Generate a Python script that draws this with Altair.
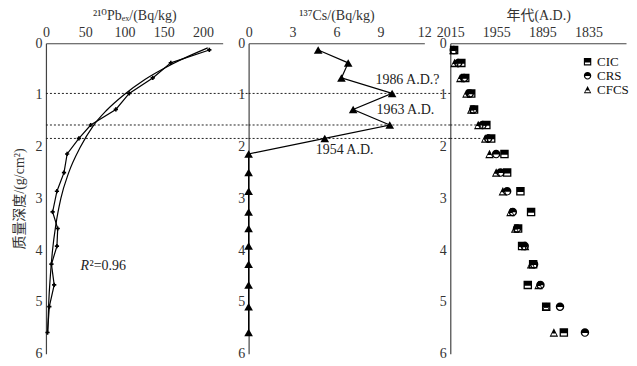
import altair as alt
import pandas as pd

# ---------------- data ----------------
depth = [0.13, 0.38, 0.67, 0.97, 1.28, 1.58, 1.84, 2.14, 2.50, 2.86, 3.26, 3.58, 3.92, 4.27, 4.67, 5.09, 5.59]
pb_measured = [208, 159, 136, 106, 89, 57, 42, 27, 23, 14, 8.5, 15, 14, 7, 10.5, 4.3, 2]

fit_depth = [0.09, 0.4, 0.7, 1.0, 1.3, 1.6, 2.0, 2.5, 3.0, 3.5, 4.0, 4.5, 5.0, 5.6]
fit_pb = [206, 161, 126, 99, 77, 60, 44, 29, 19, 12.7, 8.4, 5.6, 3.6, 2.2]

cs = [4.75, 6.8, 6.34, 9.8, 7.14, 9.64, 5.2, 0, 0, 0, 0, 0, 0, 0, 0, 0, 0]

cic = [2010, 2000.6, 1995.5, 1987.7, 1984, 1968, 1961.7, 1944.4, 1940.9, 1923.6, 1909.7, 1926.6, 1921.4, 1907, 1914, 1890, 1867]
crs = [2010.5, 2004.6, 1997, 1989.6, 1985, 1973, 1965.6, 1955.2, 1949.6, 1940.9, 1933.5, 1928, 1918, 1905.8, 1897.5, 1872, 1839.5]
cfcs = [2011, 2009.4, 2002, 1994, 1987.7, 1978.6, 1969.5, 1963.9, 1955.2, 1946.5, 1936.6, 1930.5, 1917.5, 1909.7, 1900, 1890.2, 1880]
methods = ["CIC", "CRS", "CFCS"]

dating_depth = [0.97, 1.58, 1.84]
dating_end_year = [2015, 1981, 1974]

ann_text = ["1986 A.D.?", "1963 A.D.", "1954 A.D."]
ann_cs = [8.66, 8.73, 4.58]
ann_depth = [0.71, 1.29, 2.07]

r2_pb = [44]
r2_depth = [4.3]

pb_ticks = [0, 50, 100, 150, 200]
cs_ticks = [0, 3, 6, 9, 12]
year_ticks = [2015, 1955, 1895, 1835]
depth_ticks = [0, 1, 2, 3, 4, 5, 6]

# ---------------- layout / style ----------------
W1, W2, W3, H = 177, 176, 176, 311
GAP1 = 26
FONT = "Liberation Serif, Noto Sans CJK SC, DejaVu Serif"
INK = "#000000"
AXC = "#444444"

SQ = "M-1,-1H1V1H-1Z M-0.7,0.2V0.7H0.7V0.2Z"
CI = "M-1,0A1,1 0 1,1 1,0A1,1 0 1,1 -1,0Z M-0.65,0.1A0.65,0.65 0 0,0 0.65,0.1Z"
TR = "M0,-1L1,1H-1Z M-0.42,0.25L-0.62,0.7H0.62L0.42,0.25Z"

# ---------------- frames ----------------
df_pb = pd.DataFrame({"depth": depth, "pb": pb_measured})
df_fit = pd.DataFrame({"depth": fit_depth, "pb": fit_pb})
df_cs = pd.DataFrame({"depth": depth, "cs": cs})
df_age = pd.DataFrame({
    "depth": depth * 3,
    "year": cic + crs + cfcs,
    "method": [m for m in methods for _ in depth],
})
df_dating = pd.DataFrame({"depth": dating_depth, "start": [2015] * 3, "end": dating_end_year})
df_ann = pd.DataFrame({"depth": ann_depth, "cs": ann_cs, "label": ann_text})
df_r2 = pd.DataFrame({"depth": r2_depth, "pb": r2_pb})

yscale = alt.Scale(domain=[0, 6], reverse=True, nice=False, zero=False)


def yenc(title=None):
    ax = alt.Axis(values=depth_ticks, format="d", title=title, labelPadding=4,
                  titlePadding=8, ticks=False, grid=False)
    return alt.Y("depth:Q", scale=yscale, axis=ax)


def xaxis(title, vals, fmt):
    return alt.Axis(orient="top", values=vals, format=fmt, title=title, labelPadding=4,
                    titlePadding=3, ticks=False, grid=False, labelFlush=False)


# Panel 1: 210Pb
ax1 = xaxis("²¹⁰Pbₑₓ/(Bq/kg)", pb_ticks, "d")
xs1 = alt.Scale(domain=[0, 225], nice=False)
Y1 = yenc("质量深度/(g/cm²)")

fit = alt.Chart(df_fit).mark_line(color=INK, strokeWidth=1.2, interpolate="monotone").encode(
    x=alt.X("pb:Q", scale=xs1, axis=ax1), y=Y1, order="depth:Q")
meas = alt.Chart(df_pb).mark_line(color=INK, strokeWidth=1.2).encode(
    x=alt.X("pb:Q", scale=xs1, axis=ax1), y=Y1, order="depth:Q")
meas_pts = alt.Chart(df_pb).mark_point(shape="cross", filled=True, color=INK, size=18, opacity=1).encode(
    x=alt.X("pb:Q", scale=xs1, axis=ax1), y=Y1)
rules1 = alt.Chart(df_dating).mark_rule(color="#222", strokeDash=[2, 2], strokeWidth=1).encode(
    y=Y1, x=alt.value(0), x2=alt.value(W1 + GAP1))
r_txt = alt.Chart(df_r2).mark_text(text="R", font=FONT, fontSize=14, fontStyle="italic",
                                   align="left", baseline="middle", color="#222").encode(
    x=alt.X("pb:Q", scale=xs1, axis=ax1), y=Y1)
r_rest = alt.Chart(df_r2).mark_text(text="²=0.96", font=FONT, fontSize=14, dx=9,
                                    align="left", baseline="middle", color="#222").encode(
    x=alt.X("pb:Q", scale=xs1, axis=ax1), y=Y1)
panel1 = alt.layer(rules1, fit, meas, meas_pts, r_txt, r_rest).properties(width=W1, height=H)

# Panel 2: 137Cs
ax2 = xaxis("¹³⁷Cs/(Bq/kg)", cs_ticks, "d")
xs2 = alt.Scale(domain=[0, 12], nice=False)
Y2 = yenc(None)
rules2 = alt.Chart(df_dating).mark_rule(color="#222", strokeDash=[2, 2], strokeWidth=1).encode(
    y=Y2, x=alt.value(0), x2=alt.value(W2 + GAP1))
cs_line = alt.Chart(df_cs).mark_line(color=INK, strokeWidth=1.2).encode(
    x=alt.X("cs:Q", scale=xs2, axis=ax2), y=Y2, order="depth:Q")
cs_pts = alt.Chart(df_cs).mark_point(shape="triangle-up", filled=True, color=INK, size=75, opacity=1).encode(
    x=alt.X("cs:Q", scale=xs2, axis=ax2), y=Y2)
ann = alt.Chart(df_ann).mark_text(font=FONT, fontSize=14, align="left", baseline="middle", color="#222").encode(
    x=alt.X("cs:Q", scale=xs2, axis=ax2), y=Y2, text="label:N")
panel2 = alt.layer(rules2, cs_line, cs_pts, ann).properties(width=W2, height=H)

# Panel 3: ages
ax3 = xaxis("年代(A.D.)", year_ticks, "d")
xs3 = alt.Scale(domain=[1786, 2015], reverse=True, nice=False, zero=False)
Y3 = yenc(None)
rules3 = alt.Chart(df_dating).mark_rule(color="#222", strokeDash=[2, 2], strokeWidth=1).encode(
    y=Y3, x=alt.X("start:Q", scale=xs3, axis=ax3), x2="end:Q")
pts3 = alt.Chart(df_age).mark_point(filled=True, color=INK, size=72, opacity=1).encode(
    x=alt.X("year:Q", scale=xs3, axis=ax3), y=Y3,
    shape=alt.Shape("method:N", scale=alt.Scale(domain=methods, range=[SQ, CI, TR]),
                    legend=alt.Legend(title=None, orient="none", legendX=131, legendY=12,
                                      labelFont=FONT, labelFontSize=13, labelColor="#111",
                                      symbolSize=55, symbolFillColor=INK, symbolStrokeWidth=0,
                                      rowPadding=-4, labelOffset=3)))
panel3 = alt.layer(rules3, pts3).properties(width=W3, height=H)

chart = alt.hconcat(panel1, panel2, panel3, spacing=GAP1, bounds="flush").resolve_scale(
    x="independent", y="shared", shape="independent"
).configure(
    padding={"top": 0, "left": 5, "right": 0, "bottom": 5},
    font=FONT,
).configure_view(stroke=None).configure_axis(
    labelFont=FONT, titleFont=FONT, labelFontSize=14, titleFontSize=14,
    labelColor="#333", titleColor="#333", titleFontWeight="normal",
    domainColor=AXC, domainWidth=1.2,
)

chart.save("out.html", embed_options={"renderer": "svg", "actions": False})
